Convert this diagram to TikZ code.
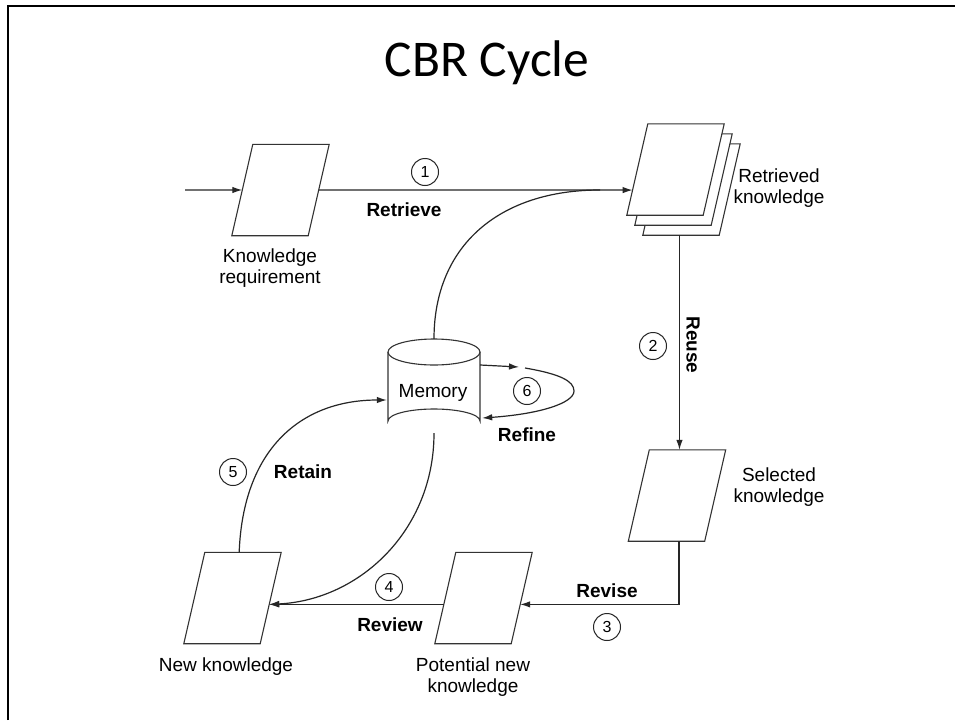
\documentclass[tikz,border=0pt]{standalone}
\usepackage{fontspec}
\setmainfont{Liberation Sans}
\newfontfamily\titlefont{Carlito}
\usetikzlibrary{calc,arrows.meta}

% parallelogram sheet: #1 name, (#2,#3) centre; corners #1-a (bottom left),
% #1-b (bottom right), #1-c (top right), #1-d (top left)
\newcommand{\sheet}[3]{%
  \node[pbox] (#1) at (#2,#3) {};
  \coordinate (#1-a) at (#1.south west);
  \coordinate (#1-b) at ($(#1.south east)-(21,0)$);
  \coordinate (#1-c) at (#1.north east);
  \coordinate (#1-d) at ($(#1.north west)+(21,0)$);
  \draw[sheetline] (#1-a) -- (#1-b) -- (#1-c) -- (#1-d) -- cycle;
}

\begin{document}
\begin{tikzpicture}[x=1pt,y=-1pt,
  pbox/.style={draw=none,inner sep=0pt,minimum width=97pt,minimum height=91pt},
  sheetline/.style={draw=black!80,line width=1.1pt,fill=white},
  conn/.style={draw=black!85,line width=1.2pt},
  arr/.style={conn,-{Latex[length=10pt,width=6.5pt]}},
  lbl/.style={font=\fontsize{19}{21}\selectfont,inner sep=0pt,align=center},
  act/.style={font=\fontsize{19}{21}\selectfont\bfseries,inner sep=0pt},
  num/.style={circle,draw=black!85,line width=1pt,minimum size=27pt,inner sep=0pt,
    font=\fontsize{16}{16}\selectfont}]

\useasboundingbox (0,0) rectangle (955,720);
\fill[white] (0,0) rectangle (955,720);

% slide frame
\draw[line width=2.6pt] (8,720) -- (8,6) -- (955,6);

% title
\node[anchor=base,inner sep=0pt,font=\titlefont\fontsize{51.5}{56}\selectfont]
  (title) at (487,76) {CBR Cycle};

% sheets
\sheet{kr}{280.5}{190}
\sheet{rk3}{691.5}{189.5}
\sheet{rk2}{683.5}{179.5}
\sheet{rk}{675.5}{169.5}
\sheet{sk}{677}{495.5}
\sheet{pk}{483.5}{598}
\sheet{nk}{232.5}{598}

% memory store
\node[draw=none,inner sep=0pt,minimum width=92pt,minimum height=94pt] (mem) at (434,386) {};
\draw[sheetline] (388,352) -- (388,421) arc[start angle=180,end angle=360,x radius=46,y radius=12]
  -- (480,352);
\draw[sheetline] (434,352) ellipse[x radius=46,y radius=13];
\node[lbl] (memtxt) at (433,393) {Memory};

% connection points
\coordinate (start) at (185,190);
\coordinate (kr-in) at ($(kr-a)!0.5!(kr-d)$);
\coordinate (kr-out) at ($(kr-b)!0.5!(kr-c)$);
\coordinate (rk-in) at ($(rk-a)!0.275!(rk-d)$);
\coordinate (join) at (600,190);
\coordinate (rk-out) at ($(rk3-a)!0.48!(rk3-b)$);
\coordinate (sk-out) at ($(sk.south)+(2,0)$);
\coordinate (pk-in) at ($(pk-b)!0.43!(pk-c)$);
\coordinate (pk-out) at ($(pk-a)!0.43!(pk-d)$);
\coordinate (nk-in) at ($(nk-b)!0.43!(nk-c)$);
\coordinate (nk-out) at ($(nk-d)!0.45!(nk-c)$);
\coordinate (mem-in) at ($(mem.west)+(-1,14)$);
\coordinate (loop-a) at ($(mem.east)+(0,-21)$);
\coordinate (loop-b) at (519,367);
\coordinate (loop-c) at (525,368);
\coordinate (loop-d) at ($(mem.east)+(2,32)$);

% connectors
\draw[arr] (start) -- (kr-in);
\draw[arr] (kr-out) -- (rk-in);
\draw[conn] (mem.north) .. controls (434,245) and (500,190) .. (join);
\draw[arr] (rk-out) -- (rk-out |- sk.north);
\draw[arr] (sk-out) |- (pk-in);
\draw[arr] (pk-out) -- (nk-in);
\draw[arr] (mem.south) .. controls (434,530) and (360,600) .. (nk-in);
\draw[arr] (nk-out) .. controls (243,450) and (300,400) .. (mem-in);
\draw[arr] (loop-a) -- (loop-b);
\draw[arr] (loop-c) .. controls (560,374) and (574,381) .. (574,391)
  .. controls (574,403) and (540,414) .. (loop-d);

% step numbers and activity labels
\node[num] (n1) at (425,172) {1};
\node[act] (retrieve) at (404,210) {Retrieve};
\node[num] (n2) at (653,346) {2};
\node[act,rotate=-90] (reuse) at (693,345) {Reuse};
\node[num] (n3) at (607,627) {3};
\node[act] (revise) at (607,591) {Revise};
\node[num] (n4) at (389,587) {4};
\node[act] (review) at (390,625) {Review};
\node[num] (n5) at (233,472) {5};
\node[act] (retain) at (303,472) {Retain};
\node[num] (n6) at (527,391) {6};
\node[act] (refine) at (527,435) {Refine};

% sheet captions
\node[lbl,anchor=north] (krtxt) at (270,249) {Knowledge\\requirement};
\node[lbl,anchor=north] (rktxt) at (779,169) {Retrieved\\knowledge};
\node[lbl,anchor=north] (sktxt) at (779,468) {Selected\\knowledge};
\node[lbl,anchor=north] (pktxt) at (473,658) {Potential new\\knowledge};
\node[lbl,anchor=north] (nktxt) at (226,658) {New knowledge};
\end{tikzpicture}
\end{document}
